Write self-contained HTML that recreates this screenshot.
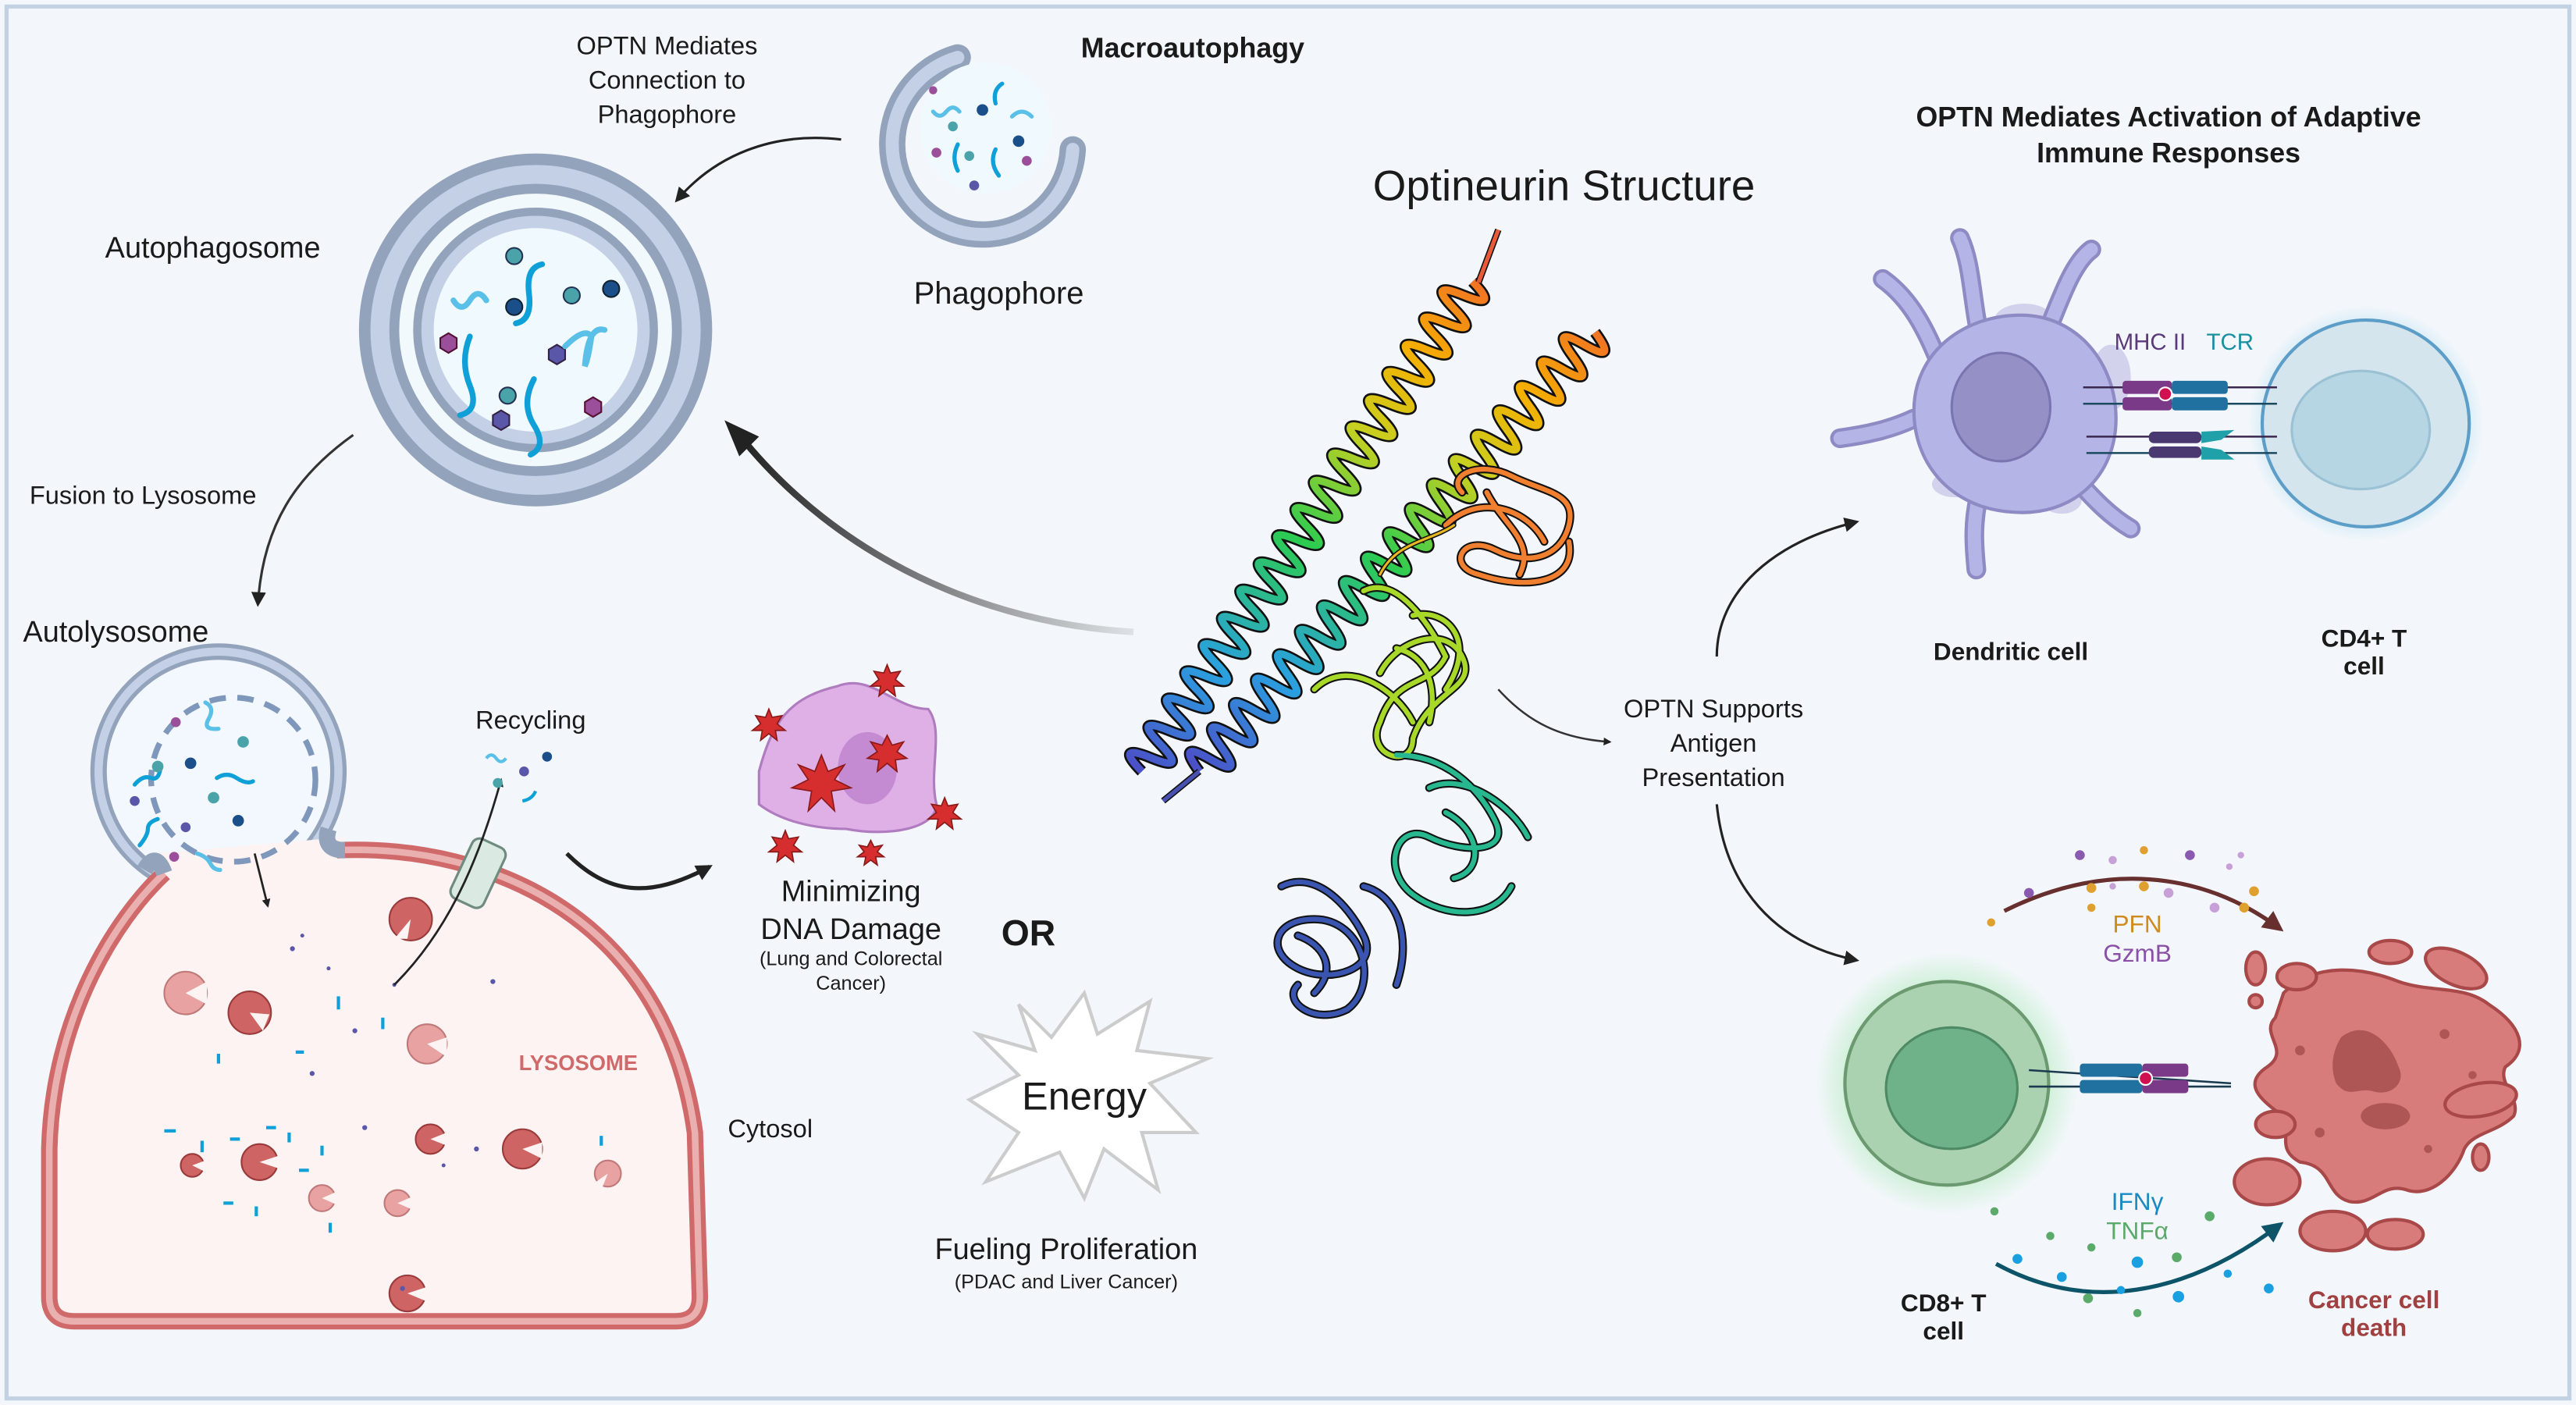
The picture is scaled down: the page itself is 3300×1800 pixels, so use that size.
<!DOCTYPE html>
<html><head><meta charset="utf-8"><style>
html,body{margin:0;padding:0;background:#f3f7fb}
svg{display:block}
text{font-family:"Liberation Sans",sans-serif;fill:#1a1a1a}
.b{font-weight:bold}
</style></head><body>
<svg width="3300" height="1800" viewBox="0 0 1568 856" preserveAspectRatio="none" xmlns="http://www.w3.org/2000/svg">
<defs>
<linearGradient id="hg" gradientUnits="userSpaceOnUse" x1="0" y1="0" x2="380" y2="0">
<stop offset="0" stop-color="#4b50c8"/><stop offset="0.2" stop-color="#2aa0e0"/><stop offset="0.45" stop-color="#2ccc50"/><stop offset="0.65" stop-color="#c8d020"/><stop offset="0.8" stop-color="#f5b000"/><stop offset="1" stop-color="#f06030"/></linearGradient>
<linearGradient id="fadeL" x1="0" x2="1"><stop offset="0" stop-color="#222"/><stop offset="1" stop-color="#222" stop-opacity="0.1"/></linearGradient>
<radialGradient id="glowG"><stop offset="0.6" stop-color="#7ee08a"/><stop offset="1" stop-color="#7ee08a" stop-opacity="0"/></radialGradient>
<radialGradient id="glowB"><stop offset="0.75" stop-color="#a8d8f0"/><stop offset="1" stop-color="#a8d8f0" stop-opacity="0"/></radialGradient>
<marker id="ah" viewBox="0 0 10 10" refX="8" refY="5" markerWidth="6" markerHeight="6" orient="auto"><path d="M0,0 L10,5 L0,10 z" fill="#222"/></marker>
<marker id="ahb" viewBox="0 0 10 10" refX="8" refY="5" markerWidth="4" markerHeight="4" orient="auto"><path d="M0,0 L10,5 L0,10 z" fill="#222"/></marker>
<marker id="ahr" viewBox="0 0 10 10" refX="8" refY="5" markerWidth="5" markerHeight="5" orient="auto"><path d="M0,0 L10,5 L0,10 z" fill="#5a1a1a"/></marker>
<marker id="aht" viewBox="0 0 10 10" refX="8" refY="5" markerWidth="5" markerHeight="5" orient="auto"><path d="M0,0 L10,5 L0,10 z" fill="#0e5468"/></marker>
<path id="hx" d="M0,0 q5,-24 10,0 t10,0 t10,0 t10,0 t10,0 t10,0 t10,0 t10,0 t10,0 t10,0 t10,0 t10,0 t10,0 t10,0 t10,0 t10,0 t10,0 t10,0 t10,0 t10,0 t10,0 t10,0 t10,0 t10,0 t10,0 t10,0 t10,0 t10,0 t10,0 t10,0 t10,0 t10,0 t10,0 t10,0 t10,0 t10,0"/>
</defs>
<rect x="0" y="0" width="1568" height="856" fill="#f3f7fb"/>
<rect x="4" y="4" width="1560" height="848" fill="none" stroke="#c3d2e3" stroke-width="2.5"/>

<!-- Autophagosome -->
<g transform="translate(326,201)">
<circle r="104" fill="#c3d0e6" stroke="#93a3bb" stroke-width="7"/>
<circle r="86" fill="#f2f9fc" stroke="#93a3bb" stroke-width="6"/>
<circle r="72" fill="#c3d0e6" stroke="#93a3bb" stroke-width="5"/>
<circle r="62" fill="#f0f9fd"/>
<circle cx="-13" cy="-45" r="5" fill="#4aa3a8" stroke="#235" stroke-width="1"/>
<circle cx="-13" cy="-14" r="5" fill="#1b4f8a" stroke="#123" stroke-width="1"/>
<circle cx="22" cy="-21" r="5" fill="#4aa3a8" stroke="#235" stroke-width="1"/>
<circle cx="46" cy="-25" r="5" fill="#1b4f8a" stroke="#123" stroke-width="1"/>
<circle cx="-17" cy="40" r="5" fill="#4aa3a8" stroke="#235" stroke-width="1"/>
<polygon points="-58,5 -53,2 -48,5 -48,11 -53,14 -58,11" fill="#9b4f9a" stroke="#513" stroke-width="1"/>
<polygon points="8,12 13,9 18,12 18,18 13,21 8,18" fill="#5a56a8" stroke="#324" stroke-width="1"/>
<polygon points="30,44 35,41 40,44 40,50 35,53 30,50" fill="#9b4f9a" stroke="#513" stroke-width="1"/>
<polygon points="-26,52 -21,49 -16,52 -16,58 -21,61 -26,58" fill="#5a56a8" stroke="#324" stroke-width="1"/>
<g fill="none" stroke-width="3.5" stroke-linecap="round">
<path d="M-50,-18 q5,8 10,0 t10,0" stroke="#5ac0e8"/>
<path d="M4,-40 q-10,2 -8,18 t-8,18" stroke="#10a0d8"/>
<path d="M-40,4 q-6,15 0,30 t-6,18" stroke="#10a0d8"/>
<path d="M18,10 q12,-12 16,-6 q-2,14 -4,18 q2,-25 12,-22" stroke="#5ac0e8"/>
<path d="M-1,30 q-8,15 0,28 t-2,18" stroke="#10a0d8"/>
</g></g>
<text x="64" y="157" font-size="18">Autophagosome</text>

<!-- Phagophore -->
<g transform="translate(598,83)">
<path d="M-15,-48 A55,55 0 1 0 55,8" fill="none" stroke="#93a3bb" stroke-width="16" stroke-linecap="round"/>
<path d="M-15,-48 A55,55 0 1 0 55,8" fill="none" stroke="#c3d0e6" stroke-width="8" stroke-linecap="round"/>
<circle cx="2" cy="-5" r="40" fill="#f0f9fd"/>
<g fill="none" stroke-width="2.5" stroke-linecap="round">
<path d="M-30,-15 q4,5 8,0 t8,0" stroke="#5ac0e8"/><path d="M12,-32 q-6,4 -4,12" stroke="#10a0d8"/>
<path d="M18,-12 q6,-6 12,0" stroke="#5ac0e8"/><path d="M-15,5 q-4,8 0,16" stroke="#10a0d8"/><path d="M8,8 q-4,8 2,16" stroke="#10a0d8"/>
</g>
<circle cx="0" cy="-16" r="3.5" fill="#1b4f8a"/><circle cx="-18" cy="-6" r="3" fill="#4aa3a8"/><circle cx="22" cy="3" r="3.5" fill="#1b4f8a"/>
<circle cx="-8" cy="12" r="3" fill="#4aa3a8"/><circle cx="27" cy="15" r="3" fill="#9b4f9a"/><circle cx="-28" cy="10" r="3" fill="#9b4f9a"/>
<circle cx="-5" cy="30" r="3" fill="#5a56a8"/><circle cx="-30" cy="-28" r="2.5" fill="#9b4f9a"/>
</g>
<text x="658" y="35" font-size="17" class="b">Macroautophagy</text>
<text x="608" y="185" font-size="19" text-anchor="middle">Phagophore</text>
<text x="406" y="33" font-size="15.5" text-anchor="middle">OPTN Mediates</text>
<text x="406" y="54" font-size="15.5" text-anchor="middle">Connection to</text>
<text x="406" y="75" font-size="15.5" text-anchor="middle">Phagophore</text>
<path d="M512,85 C470,80 435,95 412,122" fill="none" stroke="#222" stroke-width="1.5" marker-end="url(#ah)"/>
<text x="18" y="307" font-size="15.5">Fusion to Lysosome</text>
<path d="M215,265 C180,290 160,320 157,368" fill="none" stroke="#333" stroke-width="1.5" marker-end="url(#ah)"/>
<text x="14" y="391" font-size="18">Autolysosome</text>

<!-- Autolysosome -->
<circle cx="133" cy="470" r="73" fill="#f2f8fd" stroke="#93a3bb" stroke-width="10"/>
<circle cx="133" cy="470" r="73" fill="none" stroke="#c3d0e6" stroke-width="5"/>
<path d="M205,518 C300,514 405,560 423,690 L426,790 Q426,805 411,805 L45,805 Q30,805 30,790 L30,700 C32,620 70,560 100,532 L95,520 L210,510 Z" fill="#fdf3f3"/>
<path d="M205,518 C300,514 405,560 423,690 L426,790 Q426,805 411,805 L45,805 Q30,805 30,790 L30,700 C32,620 70,560 100,532" fill="none" stroke="#d06a6a" stroke-width="10"/>
<path d="M205,518 C300,514 405,560 423,690 L426,790 Q426,805 411,805 L45,805 Q30,805 30,790 L30,700 C32,620 70,560 100,532" fill="none" stroke="#eab0b0" stroke-width="4"/>
<path d="M88,530 Q95,518 100,532" fill="none" stroke="#93a3bb" stroke-width="10"/>
<path d="M200,505 Q196,518 210,518" fill="none" stroke="#93a3bb" stroke-width="10"/>
<circle cx="142" cy="475" r="50" fill="none" stroke="#7f97bb" stroke-width="3.5" stroke-dasharray="10 7"/>
<g fill="none" stroke-width="2.5" stroke-linecap="round">
<path d="M82,478 q5,-6 10,-4 t6,-8" stroke="#10a0d8"/><path d="M125,428 q6,3 2,10 t6,6" stroke="#5ac0e8"/>
<path d="M132,474 q6,-4 12,0 t10,2" stroke="#10a0d8"/><path d="M85,515 q5,-6 5,-10 t6,-6" stroke="#10a0d8"/><path d="M120,520 q6,2 8,6 t6,4" stroke="#5ac0e8"/>
</g>
<circle cx="148" cy="452" r="3.5" fill="#4aa3a8"/><circle cx="116" cy="465" r="3.5" fill="#1b4f8a"/><circle cx="96" cy="467" r="3.5" fill="#4aa3a8"/>
<circle cx="130" cy="486" r="3.5" fill="#4aa3a8"/><circle cx="145" cy="500" r="3.5" fill="#1b4f8a"/><circle cx="107" cy="440" r="3" fill="#9b4f9a"/>
<circle cx="82" cy="488" r="3" fill="#5a56a8"/><circle cx="113" cy="504" r="3" fill="#5a56a8"/><circle cx="106" cy="522" r="3" fill="#9b4f9a"/>
<path d="M155,520 L163,552" stroke="#222" stroke-width="1.3" marker-end="url(#ahb)"/>
<text x="352" y="652" font-size="13" class="b" text-anchor="middle" style="fill:#d06a6a">LYSOSOME</text>
<!-- pacmen: circle + wedge -->
<g stroke-width="1">
<g fill="#cf6464" stroke="#9a3a3a">
<circle cx="250" cy="560" r="13"/><circle cx="152" cy="617" r="13"/><circle cx="318" cy="700" r="12"/><circle cx="262" cy="694" r="9"/><circle cx="158" cy="708" r="11"/><circle cx="117" cy="710" r="7"/><circle cx="248" cy="788" r="11"/>
</g>
<g fill="#e8a2a2" stroke="#c07878">
<circle cx="113" cy="605" r="13"/><circle cx="260" cy="636" r="12"/><circle cx="196" cy="730" r="8"/><circle cx="242" cy="733" r="8"/><circle cx="370" cy="715" r="8"/>
</g>
<g fill="#fdf3f3" stroke="none">
<polygon points="250,560 248,572 240,572"/><polygon points="152,617 160,628 164,618"/><polygon points="318,700 330,696 330,706"/><polygon points="262,694 272,690 272,698"/><polygon points="158,708 170,704 170,712"/><polygon points="117,710 125,707 125,714"/><polygon points="248,788 260,784 260,793"/>
<polygon points="113,605 126,598 126,612"/><polygon points="260,636 272,632 272,644"/><polygon points="196,730 205,726 205,734"/><polygon points="242,733 251,729 251,737"/><polygon points="370,715 360,722 366,725"/>
</g></g>
<g fill="#10a0d8">
<rect x="132" y="642" width="2" height="6"/><rect x="205" y="607" width="2" height="8"/><rect x="232" y="620" width="2" height="7"/><rect x="100" y="688" width="7" height="2"/><rect x="122" y="695" width="2" height="7"/><rect x="140" y="693" width="6" height="2"/><rect x="162" y="686" width="6" height="2"/><rect x="175" y="690" width="2" height="6"/><rect x="195" y="698" width="2" height="6"/><rect x="136" y="732" width="6" height="2"/><rect x="155" y="735" width="2" height="6"/><rect x="182" y="712" width="6" height="2"/><rect x="200" y="745" width="2" height="6"/><rect x="365" y="692" width="2" height="6"/><rect x="180" y="640" width="5" height="2"/>
</g>
<g fill="#5a56a8"><circle cx="178" cy="578" r="1.5"/><circle cx="216" cy="628" r="1.5"/><circle cx="190" cy="654" r="1.5"/><circle cx="300" cy="598" r="1.5"/><circle cx="222" cy="687" r="1.5"/><circle cx="290" cy="700" r="1.5"/><circle cx="245" cy="785" r="1.5"/><circle cx="184" cy="570" r="1.2"/><circle cx="200" cy="590" r="1.2"/><circle cx="240" cy="600" r="1.2"/><circle cx="270" cy="710" r="1.2"/></g>

<!-- recycling -->
<text x="323" y="444" font-size="15.5" text-anchor="middle">Recycling</text>
<rect x="280" y="512" width="22" height="40" rx="5" fill="#dbe9e3" stroke="#6f8b80" stroke-width="1.5" transform="rotate(25 291 532)"/>
<path d="M240,600 C270,570 290,530 305,475" fill="none" stroke="#222" stroke-width="1.3" marker-end="url(#ahb)"/>
<path d="M296,462 q3,-4 6,0 t6,0" fill="none" stroke="#5ac0e8" stroke-width="2"/><circle cx="333" cy="461" r="3" fill="#1b4f8a"/><circle cx="319" cy="470" r="3" fill="#5a56a8"/><circle cx="303" cy="477" r="3" fill="#4aa3a8"/><path d="M318,488 q6,-1 8,-6" fill="none" stroke="#10a0d8" stroke-width="2"/>
<path d="M345,520 C370,545 395,548 432,528" fill="none" stroke="#222" stroke-width="2.5" marker-end="url(#ahb)"/>

<!-- DNA damage cell -->
<path d="M462,470 C470,440 480,425 510,418 C530,410 545,432 565,432 C575,445 565,470 570,490 C570,505 540,510 515,505 C495,505 475,500 462,490 Z" fill="#dfb0e6" stroke="#b07cc0" stroke-width="1.5"/>
<ellipse cx="528" cy="468" rx="18" ry="22" fill="#c48ad2"/>
<g fill="#d62e2e" stroke="#8a1a1a" stroke-width="0.8">
<polygon points="500,460 504,470 514,466 508,475 518,480 506,482 508,494 500,486 492,494 494,482 482,480 492,475 486,466 496,470"/>
<polygon points="540,448 543,454 550,452 546,458 552,462 545,463 546,470 540,465 534,470 535,463 528,462 534,458 530,452 537,454"/>
<polygon points="540,405 542,410 548,409 545,414 550,418 544,418 545,424 540,420 535,424 536,418 530,418 535,414 532,409 538,410"/>
<polygon points="468,432 470,437 476,436 473,441 478,445 472,445 473,451 468,447 463,451 464,445 458,445 463,441 460,436 466,437"/>
<polygon points="575,486 577,491 583,490 580,495 585,499 579,499 580,505 575,501 570,505 571,499 565,499 570,495 567,490 573,491"/>
<polygon points="478,506 480,511 486,510 483,515 488,519 482,519 483,525 478,521 473,525 474,519 468,519 473,515 470,510 476,511"/>
<polygon points="530,512 532,516 537,515 534,519 538,522 533,522 534,527 530,524 526,527 527,522 522,522 526,519 523,515 528,516"/>
</g>
<text x="518" y="549" font-size="18" text-anchor="middle">Minimizing</text>
<text x="518" y="572" font-size="18" text-anchor="middle">DNA Damage</text>
<text x="518" y="588" font-size="12" text-anchor="middle">(Lung and Colorectal</text>
<text x="518" y="603" font-size="12" text-anchor="middle">Cancer)</text>
<text x="626" y="576" font-size="22" class="b" text-anchor="middle">OR</text>
<text x="443" y="693" font-size="15.5">Cytosol</text>

<!-- Energy -->
<polygon points="620,612 640,632 660,605 668,630 700,610 692,640 735,645 700,660 728,690 695,690 705,725 672,700 660,730 645,702 600,720 620,690 590,670 620,655 595,630 630,640" fill="#fff" stroke="#ccc" stroke-width="2"/>
<text x="660" y="676" font-size="24" text-anchor="middle">Energy</text>
<text x="649" y="767" font-size="18" text-anchor="middle">Fueling Proliferation</text>
<text x="649" y="785" font-size="12" text-anchor="middle">(PDAC and Liver Cancer)</text>

<!-- big arrow -->
<path d="M690,385 C600,380 510,340 450,265" fill="none" stroke="url(#fadeL)" stroke-width="4"/>
<path d="M441,256 L462,266 L450,278 Z" fill="#222"/>

<!-- Optineurin -->
<text x="952" y="122" font-size="26" text-anchor="middle">Optineurin Structure</text>
<g fill="none" stroke-linejoin="round">
<use href="#hx" transform="translate(695,470) rotate(-56)" stroke="#111" stroke-width="7"/>
<use href="#hx" transform="translate(730,470) rotate(-48)" stroke="#111" stroke-width="7"/>
<use href="#hx" transform="translate(695,470) rotate(-56)" stroke="url(#hg)" stroke-width="4.5"/>
<use href="#hx" transform="translate(730,470) rotate(-48)" stroke="url(#hg)" stroke-width="4.5"/>
</g>
<path d="M900,172 L912,140" stroke="#111" stroke-width="4"/><path d="M900,172 L912,140" stroke="#e85a3a" stroke-width="2.5"/>
<path d="M730,470 L708,488" stroke="#111" stroke-width="4"/><path d="M730,470 L708,488" stroke="#4850b0" stroke-width="2.5"/>
<g fill="none" stroke-linejoin="round" stroke-linecap="round">
<g stroke="#111" stroke-width="5">
<path d="M890,300 C880,290 900,280 920,290 C940,300 960,300 955,320 C950,340 930,345 910,335 C890,325 880,345 900,350 C930,360 960,355 955,330 M880,320 C900,300 930,310 940,330 M905,300 C915,320 935,330 925,350"/>
<path d="M830,360 C850,350 870,380 880,400 C870,420 850,410 840,440 C830,460 860,470 860,450 C870,420 900,420 890,400 C880,380 850,390 840,410 M860,375 C880,370 900,390 880,420 M800,420 C820,400 850,420 860,440 M850,395 C870,400 875,420 870,440"/>
<path d="M850,460 C880,460 900,480 910,500 C920,520 890,520 870,510 C850,500 840,530 860,545 C880,560 910,560 920,540 M870,480 C890,470 920,490 930,510 M880,495 C900,505 905,530 885,535"/>
<path d="M780,540 C800,530 820,550 830,570 C840,590 810,600 790,590 C770,580 775,560 800,560 C830,560 840,600 820,615 C800,625 780,610 790,600 M830,540 C850,545 860,570 850,600 M790,570 C805,575 815,590 800,605"/>
</g>
<g stroke-width="3">
<path stroke="#f08030" d="M890,300 C880,290 900,280 920,290 C940,300 960,300 955,320 C950,340 930,345 910,335 C890,325 880,345 900,350 C930,360 960,355 955,330 M880,320 C900,300 930,310 940,330 M905,300 C915,320 935,330 925,350"/>
<path stroke="#a8d828" d="M830,360 C850,350 870,380 880,400 C870,420 850,410 840,440 C830,460 860,470 860,450 C870,420 900,420 890,400 C880,380 850,390 840,410 M860,375 C880,370 900,390 880,420 M800,420 C820,400 850,420 860,440 M850,395 C870,400 875,420 870,440"/>
<path stroke="#28b890" d="M850,460 C880,460 900,480 910,500 C920,520 890,520 870,510 C850,500 840,530 860,545 C880,560 910,560 920,540 M870,480 C890,470 920,490 930,510 M880,495 C900,505 905,530 885,535"/>
<path stroke="#3a55b0" d="M780,540 C800,530 820,550 830,570 C840,590 810,600 790,590 C770,580 775,560 800,560 C830,560 840,600 820,615 C800,625 780,610 790,600 M830,540 C850,545 860,570 850,600 M790,570 C805,575 815,590 800,605"/>
</g>
<path d="M840,350 C850,330 870,330 885,320" stroke="#111" stroke-width="3"/><path d="M840,350 C850,330 870,330 885,320" stroke="#e8b820" stroke-width="1.5"/>
</g>

<!-- OPTN supports -->
<path d="M912,420 C930,440 950,450 980,452" fill="none" stroke="#333" stroke-width="1.2" marker-end="url(#ahb)"/>
<text x="1043" y="437" font-size="15.5" text-anchor="middle">OPTN Supports</text>
<text x="1043" y="458" font-size="15.5" text-anchor="middle">Antigen</text>
<text x="1043" y="479" font-size="15.5" text-anchor="middle">Presentation</text>
<path d="M1045,400 C1045,360 1080,330 1130,318" fill="none" stroke="#222" stroke-width="1.5" marker-end="url(#ah)"/>
<path d="M1045,490 C1050,540 1080,575 1130,585" fill="none" stroke="#222" stroke-width="1.5" marker-end="url(#ah)"/>

<text x="1320" y="77" font-size="17" class="b" text-anchor="middle">OPTN Mediates Activation of Adaptive</text>
<text x="1320" y="99" font-size="17" class="b" text-anchor="middle">Immune Responses</text>

<!-- Dendritic cell -->
<g fill="#c9c8ea" opacity="0.8"><ellipse cx="1232" cy="195" rx="18" ry="10"/><ellipse cx="1285" cy="230" rx="12" ry="20"/><ellipse cx="1190" cy="295" rx="14" ry="8"/><ellipse cx="1255" cy="305" rx="12" ry="8"/></g>
<g fill="none" stroke-linecap="round">
<g stroke="#8d8ac4" stroke-width="12">
<path d="M1205,205 C1200,180 1200,160 1193,145"/><path d="M1245,205 C1255,180 1262,160 1273,152"/><path d="M1180,220 C1170,195 1160,180 1146,170"/><path d="M1165,255 C1150,262 1135,265 1120,267"/><path d="M1205,300 C1200,320 1202,335 1203,347"/><path d="M1262,290 C1275,305 1285,315 1297,322"/>
</g>
<g stroke="#b5b4e6" stroke-width="8">
<path d="M1205,205 C1200,180 1200,160 1193,145"/><path d="M1245,205 C1255,180 1262,160 1273,152"/><path d="M1180,220 C1170,195 1160,180 1146,170"/><path d="M1165,255 C1150,262 1135,265 1120,267"/><path d="M1205,300 C1200,320 1202,335 1203,347"/><path d="M1262,290 C1275,305 1285,315 1297,322"/>
</g></g>
<path d="M1165,250 C1165,215 1195,192 1230,192 C1265,192 1288,222 1288,255 C1288,290 1262,315 1225,312 C1190,310 1165,285 1165,250 Z" fill="#b5b4e6" stroke="#8d8ac4" stroke-width="2"/>
<ellipse cx="1218" cy="248" rx="30" ry="33" fill="#9590c6" stroke="#7a75b0" stroke-width="1.5"/>
<!-- CD4 -->
<circle cx="1440" cy="258" r="72" fill="url(#glowB)" opacity="0.6"/>
<circle cx="1440" cy="258" r="63" fill="#d5e5ee" stroke="#5c9ec8" stroke-width="2"/>
<ellipse cx="1437" cy="262" rx="42" ry="36" fill="#b6d6e4" stroke="#9ac2d4" stroke-width="1.5"/>
<text x="1287" y="213" font-size="14" style="fill:#5a3a78">MHC II</text>
<text x="1343" y="213" font-size="14" style="fill:#1a90a0">TCR</text>
<line x1="1268" y1="236" x2="1386" y2="236" stroke="#3a2850" stroke-width="1.2"/><line x1="1268" y1="246" x2="1386" y2="246" stroke="#1a4a60" stroke-width="1.2"/>
<rect x="1292" y="232" width="30" height="8" rx="2" fill="#7a3a88"/><rect x="1292" y="242" width="30" height="8" rx="2" fill="#7a3a88"/>
<rect x="1322" y="232" width="34" height="8" rx="2" fill="#2070a0"/><rect x="1322" y="242" width="34" height="8" rx="2" fill="#2070a0"/>
<circle cx="1318" cy="240" r="4" fill="#d01050" stroke="#fff" stroke-width="1"/>
<line x1="1270" y1="266" x2="1386" y2="266" stroke="#3a2850" stroke-width="1.2"/><line x1="1270" y1="276" x2="1386" y2="276" stroke="#1a4a60" stroke-width="1.2"/>
<rect x="1308" y="263" width="32" height="7" rx="3" fill="#4a3870"/><rect x="1308" y="272" width="32" height="7" rx="3" fill="#4a3870"/>
<path d="M1340,263 L1360,262 L1352,268 L1340,270 Z M1340,272 L1352,274 L1360,280 L1340,280 Z" fill="#20a0a8"/>

<text x="1224" y="402" font-size="15" class="b" text-anchor="middle">Dendritic cell</text>
<text x="1439" y="394" font-size="15" class="b" text-anchor="middle">CD4+ T</text>
<text x="1439" y="411" font-size="15" class="b" text-anchor="middle">cell</text>

<!-- CD8 -->
<circle cx="1185" cy="660" r="80" fill="url(#glowG)" opacity="0.5"/>
<circle cx="1185" cy="660" r="62" fill="#abd2b0" stroke="#6b9a70" stroke-width="2"/>
<ellipse cx="1188" cy="663" rx="40" ry="37" fill="#6fb28a" stroke="#4e8a66" stroke-width="1.5"/>
<line x1="1235" y1="652" x2="1358" y2="660" stroke="#1a3a50" stroke-width="1.2"/><line x1="1235" y1="662" x2="1358" y2="662" stroke="#1a3a50" stroke-width="1.2"/>
<rect x="1266" y="648" width="38" height="8" rx="2" fill="#2070a0"/><rect x="1266" y="658" width="38" height="8" rx="2" fill="#2070a0"/>
<rect x="1304" y="648" width="28" height="8" rx="2" fill="#7a3a88"/><rect x="1304" y="658" width="28" height="8" rx="2" fill="#7a3a88"/>
<circle cx="1306" cy="657" r="4" fill="#d01050" stroke="#fff" stroke-width="1"/>
<text x="1183" y="799" font-size="15" class="b" text-anchor="middle">CD8+ T</text>
<text x="1183" y="816" font-size="15" class="b" text-anchor="middle">cell</text>

<path d="M1220,555 C1280,525 1340,530 1388,566" fill="none" stroke="#5a1a1a" stroke-width="2.5" marker-end="url(#ahr)" opacity="0.9"/>
<text x="1301" y="568" font-size="15" text-anchor="middle" style="fill:#d08a20">PFN</text>
<text x="1301" y="586" font-size="15" text-anchor="middle" style="fill:#8a50a8">GzmB</text>
<path d="M1215,770 C1270,800 1330,790 1388,746" fill="none" stroke="#0e5468" stroke-width="2.5" marker-end="url(#aht)"/>
<text x="1301" y="737" font-size="15" text-anchor="middle" style="fill:#1a8ac0">IFNγ</text>
<text x="1301" y="755" font-size="15" text-anchor="middle" style="fill:#5aaa6a">TNFα</text>
<g fill="#8a5ab0"><circle cx="1266" cy="521" r="3"/><circle cx="1333" cy="521" r="3"/><circle cx="1235" cy="544" r="3"/></g>
<g fill="#c8a0d8"><circle cx="1286" cy="524" r="2.5"/><circle cx="1364" cy="521" r="2"/><circle cx="1320" cy="544" r="3"/><circle cx="1348" cy="553" r="3"/><circle cx="1357" cy="528" r="2"/><circle cx="1286" cy="540" r="2"/></g>
<g fill="#e0a030"><circle cx="1305" cy="518" r="2.5"/><circle cx="1273" cy="541" r="3"/><circle cx="1305" cy="540" r="3"/><circle cx="1372" cy="543" r="3"/><circle cx="1366" cy="553" r="3"/><circle cx="1212" cy="562" r="2.5"/><circle cx="1273" cy="553" r="2.5"/></g>
<g fill="#5aaa6a"><circle cx="1214" cy="738" r="2.5"/><circle cx="1248" cy="753" r="2.5"/><circle cx="1273" cy="760" r="2.5"/><circle cx="1345" cy="741" r="3"/><circle cx="1325" cy="766" r="3"/><circle cx="1271" cy="791" r="3"/><circle cx="1301" cy="800" r="2.5"/></g>
<g fill="#1aa0e0"><circle cx="1228" cy="767" r="3"/><circle cx="1255" cy="778" r="3"/><circle cx="1301" cy="769" r="3.5"/><circle cx="1291" cy="786" r="2.5"/><circle cx="1326" cy="790" r="3.5"/><circle cx="1356" cy="776" r="2.5"/><circle cx="1381" cy="785" r="3"/></g>

<!-- cancer cell -->
<g fill="#d77b7b" stroke="#a84848" stroke-width="2">
<path d="M1390,605 C1410,585 1440,590 1460,598 C1480,605 1500,600 1515,612 C1535,625 1540,640 1525,650 C1520,660 1535,670 1530,680 C1520,690 1505,690 1500,700 C1495,715 1480,730 1465,725 C1450,720 1445,735 1430,732 C1415,728 1420,710 1400,708 C1385,700 1395,690 1390,680 C1375,670 1365,660 1380,650 C1395,640 1375,630 1385,620 Z"/>
<ellipse cx="1398" cy="595" rx="12" ry="8"/><ellipse cx="1455" cy="580" rx="13" ry="7"/><ellipse cx="1495" cy="590" rx="20" ry="10" transform="rotate(25 1495 590)"/>
<ellipse cx="1385" cy="685" rx="12" ry="8"/><ellipse cx="1380" cy="720" rx="20" ry="14"/><ellipse cx="1420" cy="750" rx="20" ry="12"/><ellipse cx="1458" cy="752" rx="17" ry="9"/>
<ellipse cx="1510" cy="670" rx="22" ry="10" transform="rotate(-10 1510 670)"/><ellipse cx="1510" cy="705" rx="5" ry="8"/><ellipse cx="1373" cy="590" rx="6" ry="10"/><circle cx="1373" cy="610" r="4"/>
</g>
<path d="M1425,632 C1440,620 1455,635 1460,650 C1465,660 1455,668 1445,665 C1435,662 1430,670 1422,660 C1418,650 1420,640 1425,632 Z" fill="#ae5555"/>
<ellipse cx="1452" cy="680" rx="15" ry="8" fill="#ae5555"/>
<g fill="#ae5555"><circle cx="1400" cy="640" r="3"/><circle cx="1488" cy="630" r="3"/><circle cx="1412" cy="690" r="3"/><circle cx="1478" cy="700" r="2.5"/><circle cx="1505" cy="655" r="2.5"/></g>
<text x="1445" y="797" font-size="15" class="b" text-anchor="middle" style="fill:#a04040">Cancer cell</text>
<text x="1445" y="814" font-size="15" class="b" text-anchor="middle" style="fill:#a04040">death</text>
</svg>
</body></html>
